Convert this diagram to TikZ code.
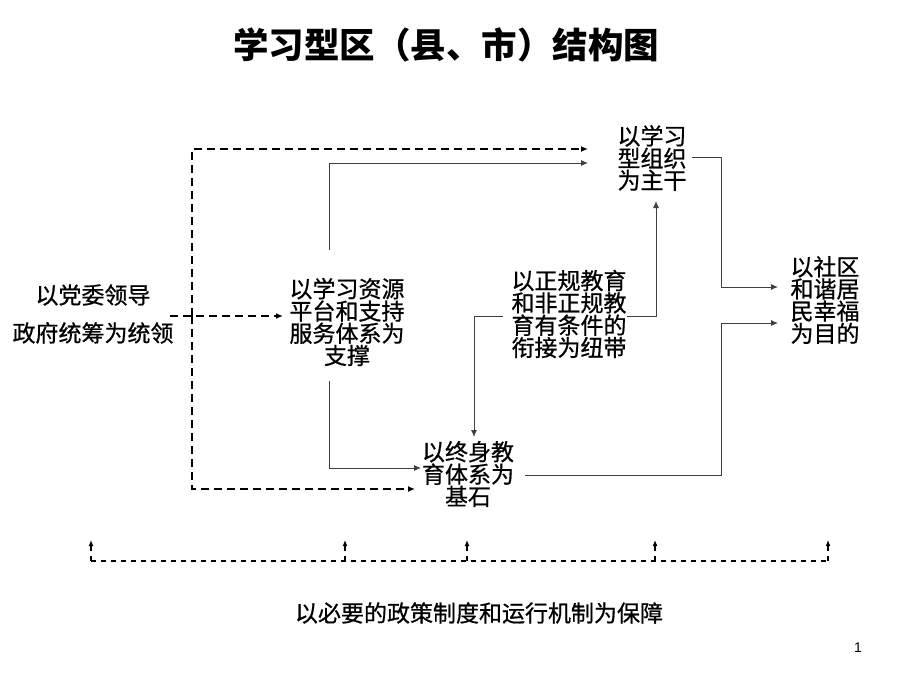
\documentclass[tikz,border=0pt]{standalone}
\usepackage{fontspec}
\setmainfont{Noto Sans CJK SC}
\newfontfamily\bodyfont[FakeBold=0.7]{Noto Sans CJK SC}
\newfontfamily\latinfont{Liberation Sans}
\usetikzlibrary{arrows.meta}
\begin{document}
\begin{tikzpicture}[x=1pt,y=1pt,
  txt/.style={align=center,inner sep=0pt,font=\bodyfont\fontsize{23}{21}\selectfont},
  dsh/.style={line width=1.4pt,dash pattern=on 8pt off 5pt,-{Latex[length=7pt,width=6pt]}},
  dshb/.style={line width=1.2pt,dash pattern=on 5pt off 5pt},
  sol/.style={line width=0.9pt,draw=black!75,-{Latex[length=7pt,width=6pt]}},
  tip/.style={-{Latex[length=6pt,width=5pt]}}]
\useasboundingbox (0,0) rectangle (920,-690);
% title
\node[font=\fontsize{35.5}{38}\selectfont\bfseries] (title) at (446,-45) {学习型区（县、市）结构图};
% nodes
\node[align=center,inner sep=0pt,font=\bodyfont\fontsize{23}{38}\selectfont] (lead) at (93,-314) {以党委领导\\政府统筹为统领};
\node[txt] (res) at (347,-322) {以学习资源\\平台和支持\\服务体系为\\支撑};
\node[txt] (org) at (652,-158) {以学习\\型组织\\为主干};
\node[txt] (link) at (569,-314) {以正规教育\\和非正规教\\育有条件的\\衔接为纽带};
\node[txt] (base) at (468,-474) {以终身教\\育体系为\\基石};
\node[txt] (goal) at (825,-300) {以社区\\和谐居\\民幸福\\为目的};
\node[font=\bodyfont\fontsize{23}{24}\selectfont] (guar) at (479,-613) {以必要的政策制度和运行机制为保障};
\node[font=\latinfont\fontsize{14}{16}\selectfont] (pg) at (858,-648) {1};
% coordinates
\coordinate (leadE) at (170,-316);
\coordinate (j) at (192,-316);
\coordinate (resW) at (283,-316);
\coordinate (orgD) at (588,-149);
\coordinate (orgS) at (588,-163);
\coordinate (orgB) at (656,-201);
\coordinate (orgE) at (692,-157);
\coordinate (resT) at (329,-250);
\coordinate (resB) at (329,-381);
\coordinate (baseS) at (421,-468);
\coordinate (baseD) at (415,-489);
\coordinate (baseT) at (474,-437);
\coordinate (baseE) at (525,-475);
\coordinate (linkE) at (627,-316);
\coordinate (linkW) at (503,-316);
\coordinate (goalA) at (778,-287);
\coordinate (goalB) at (778,-323);
% dashed connectors
\draw[dsh] (leadE) -- (resW);
\draw[dsh] (j) |- (orgD);
\draw[dsh] (j) |- (baseD);
% solid connectors
\draw[sol] (resT) |- (orgS);
\draw[sol] (resB) |- (baseS);
\draw[sol] (linkE) -| (orgB);
\draw[sol] (linkW) -| (baseT);
\draw[sol] (orgE) -- (721,-157) -- (721,-287) -- (goalA);
\draw[sol] (baseE) -- (721,-475) -- (721,-323) -- (goalB);
% bottom guarantee line
\draw[dshb] (91,-561) -- (828,-561);
\foreach \x/\n in {91/g1,345/g2,467/g3,655/g4,828/g5}{
  \coordinate (\n) at (\x,-540);
  \draw[dshb,tip] (\x,-561) -- (\n);
}
\end{tikzpicture}
\end{document}
